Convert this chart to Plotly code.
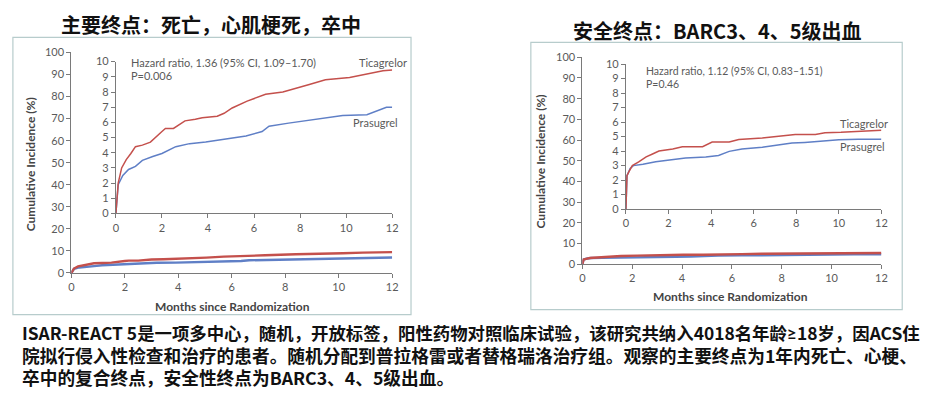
import plotly.graph_objects as go

# ---------------- DATA ----------------
# Primary endpoint (death, MI, stroke) - cumulative incidence (%)
prim_tica_month = [0, 0.05, 0.1, 0.25, 0.45, 0.65, 0.85, 1.15, 1.5, 2.0, 2.15, 2.5, 2.6, 3.0, 3.45, 3.75, 4.4, 4.7, 5.05, 5.7, 6.5, 7.25, 8.4, 9.1, 10.15, 10.9, 11.6, 12.0]
prim_tica_val = [0, 1.0, 2.0, 3.0, 3.55, 3.95, 4.4, 4.5, 4.7, 5.4, 5.6, 5.6, 5.7, 6.1, 6.2, 6.3, 6.4, 6.6, 6.95, 7.4, 7.85, 8.0, 8.5, 8.8, 8.95, 9.2, 9.4, 9.45]
prim_pras_month = [0, 0.05, 0.1, 0.3, 0.55, 0.85, 1.15, 1.6, 2.0, 2.6, 3.2, 3.9, 4.8, 5.65, 6.35, 6.65, 7.5, 8.4, 9.0, 9.85, 10.9, 11.45, 11.75, 12.0]
prim_pras_val = [0, 1.2, 1.9, 2.5, 2.9, 3.1, 3.5, 3.75, 3.95, 4.4, 4.6, 4.7, 4.9, 5.1, 5.4, 5.75, 5.95, 6.15, 6.3, 6.45, 6.5, 6.8, 7.0, 7.0]

# Safety endpoint (BARC 3-5 bleeding)
safe_tica_month = [0, 0.05, 0.15, 0.3, 0.6, 0.95, 1.25, 1.55, 2.2, 2.65, 3.6, 4.05, 4.85, 5.3, 6.4, 7.2, 7.95, 8.9, 9.35, 10.1, 11.2, 12.0]
safe_tica_val = [0, 2.3, 2.6, 3.0, 3.25, 3.6, 3.8, 4.0, 4.15, 4.3, 4.3, 4.62, 4.62, 4.8, 4.9, 5.05, 5.15, 5.15, 5.27, 5.3, 5.38, 5.44]
safe_pras_month = [0, 0.05, 0.2, 0.35, 0.8, 1.4, 2.05, 2.8, 3.75, 4.35, 4.85, 5.45, 6.4, 7.2, 7.8, 8.4, 9.2, 10.0, 10.9, 12.0]
safe_pras_val = [0, 2.3, 2.8, 3.0, 3.1, 3.27, 3.38, 3.53, 3.6, 3.7, 3.98, 4.15, 4.27, 4.42, 4.55, 4.6, 4.7, 4.78, 4.82, 4.82]

x_ticks = [0, 2, 4, 6, 8, 10, 12]
main_y_ticks = [0, 10, 20, 30, 40, 50, 60, 70, 80, 90, 100]
inset_y_ticks = [0, 1, 2, 3, 4, 5, 6, 7, 8, 9, 10]

title_left = "主要终点：死亡，心肌梗死，卒中"
title_right = "安全终点：BARC3、4、5级出血"
hr_left = ["Hazard ratio, 1.36 (95% CI, 1.09–1.70)", "P=0.006"]
hr_right = ["Hazard ratio, 1.12 (95% CI, 0.83–1.51)", "P=0.46"]
body_lines = [
    "ISAR-REACT 5是一项多中心，随机，开放标签，阳性药物对照临床试验，该研究共纳入4018名年龄<span style=\"font-family:Lato\">≥</span>18岁，因ACS住",
    "院拟行侵入性检查和治疗的患者。随机分配到普拉格雷或者替格瑞洛治疗组。观察的主要终点为1年内死亡、心梗、",
    "卒中的复合终点，安全性终点为BARC3、4、5级出血。",
]

# ---------------- STYLE ----------------
W, H = 931, 395
RED = "#c4504c"
BLUE = "#5f7fc6"
AXC = "#7a7a7a"
TXT = "#5a5a5a"
FONT = "Lato, Open Sans, sans-serif"
CJK = "Noto Sans CJK SC"


def px(x):
    return x / W


def py(y):
    return 1 - y / H


fig = go.Figure()

panels = [
    ("x", "y", (prim_tica_month, prim_tica_val), (prim_pras_month, prim_pras_val), 2.4),
    ("x2", "y2", (prim_tica_month, prim_tica_val), (prim_pras_month, prim_pras_val), 1.5),
    ("x3", "y3", (safe_tica_month, safe_tica_val), (safe_pras_month, safe_pras_val), 2.4),
    ("x4", "y4", (safe_tica_month, safe_tica_val), (safe_pras_month, safe_pras_val), 1.5),
]
for xa, ya, tica, pras, lw in panels:
    fig.add_trace(go.Scatter(x=pras[0], y=pras[1], mode="lines", xaxis=xa, yaxis=ya,
                             line=dict(color=BLUE, width=lw), showlegend=False, hoverinfo="skip"))
    fig.add_trace(go.Scatter(x=tica[0], y=tica[1], mode="lines", xaxis=xa, yaxis=ya,
                             line=dict(color=RED, width=lw), showlegend=False, hoverinfo="skip"))

axis_common = dict(showline=True, linecolor=AXC, linewidth=1, ticks="outside", ticklen=4,
                   tickcolor=AXC, tickwidth=1, showgrid=False, zeroline=False,
                   tickfont=dict(family=FONT, size=11, color=TXT), fixedrange=True)

domains = {
    "1": (dict(domain=[px(69), px(393)]), dict(domain=[py(275), py(47)])),
    "2": (dict(domain=[px(114), px(393)]), dict(domain=[py(213.5), py(56.5)])),
    "3": (dict(domain=[px(585), px(887)]), dict(domain=[py(266), py(52)])),
    "4": (dict(domain=[px(629), px(887)]), dict(domain=[py(209), py(59)])),
}

layout_axes = {}
for k, (xd, yd) in domains.items():
    xname = "xaxis" if k == "1" else f"xaxis{k}"
    yname = "yaxis" if k == "1" else f"yaxis{k}"
    ytv = main_y_ticks if k in ("1", "3") else inset_y_ticks
    yr = [0, 100] if k in ("1", "3") else [0, 10]
    anchor_y = "y" if k == "1" else f"y{k}"
    anchor_x = "x" if k == "1" else f"x{k}"
    layout_axes[xname] = dict(axis_common, **xd, range=[0, 12], tickvals=x_ticks,
                              ticktext=[str(t) for t in x_ticks], anchor=anchor_y)
    layout_axes[yname] = dict(axis_common, **yd, range=yr, tickvals=ytv,
                              ticktext=[str(t) for t in ytv], anchor=anchor_x)

fig.update_layout(**layout_axes)

shapes = [
    dict(type="rect", xref="paper", yref="paper", x0=px(10), x1=px(412), y0=py(318), y1=py(31.5),
         line=dict(color="#b7cccc", width=1.2), fillcolor="rgba(0,0,0,0)", layer="below"),
    dict(type="rect", xref="paper", yref="paper", x0=px(533), x1=px(908), y0=py(313), y1=py(36.5),
         line=dict(color="#b7cccc", width=1.2), fillcolor="rgba(0,0,0,0)", layer="below"),
]

ann = []


def add_text(x, y, text, size, color, family=FONT, xanchor="left", yanchor="middle", bold=False, angle=0):
    t = f"<b>{text}</b>" if bold else text
    ann.append(dict(x=px(x), y=py(y), xref="paper", yref="paper", text=t, showarrow=False,
                    xanchor=xanchor, yanchor=yanchor, textangle=angle, align="left",
                    font=dict(family=family, size=size, color=color)))


add_text(210, 18, title_left, 20, "#111", family=CJK, xanchor="center", bold=True)
add_text(721, 24, title_right, 20, "#111", family=CJK, xanchor="center", bold=True)

add_text(232, 310, "Months since Randomization", 12, "#444", xanchor="center", bold=True)
add_text(735, 299, "Months since Randomization", 12, "#444", xanchor="center", bold=True)
add_text(28, 163, "Cumulative Incidence (%)", 12, "#444", xanchor="center", bold=True, angle=-90)
add_text(543, 160, "Cumulative Incidence (%)", 12, "#444", xanchor="center", bold=True, angle=-90)

add_text(127, 57, hr_left[0], 11, TXT)
add_text(127, 71, hr_left[1], 11, TXT)
add_text(357, 57, "Ticagrelor", 11, TXT)
add_text(351, 119, "Prasugrel", 11, TXT)
add_text(647, 66, hr_right[0], 10.5, TXT)
add_text(647, 80, hr_right[1], 10.5, TXT)
add_text(843, 120, "Ticagrelor", 11, TXT)
add_text(843, 144, "Prasugrel", 11, TXT)

body = (body_lines[0] + "<br>" +
        "<span style=\"font-size:17.7px\">" + body_lines[1] + "</span><br>" +
        "<span style=\"font-size:17.7px\">" + body_lines[2] + "</span>")
add_text(17, 360, body, 17.4, "#111", family=CJK, bold=True)

fig.update_layout(width=W, height=H, margin=dict(l=0, r=0, t=0, b=0),
                  paper_bgcolor="white", plot_bgcolor="rgba(0,0,0,0)",
                  shapes=shapes, annotations=ann, showlegend=False)

fig.write_html("out.html", config=dict(displayModeBar=False),
               post_script="document.body.style.margin='0';document.body.style.overflow='hidden';")
